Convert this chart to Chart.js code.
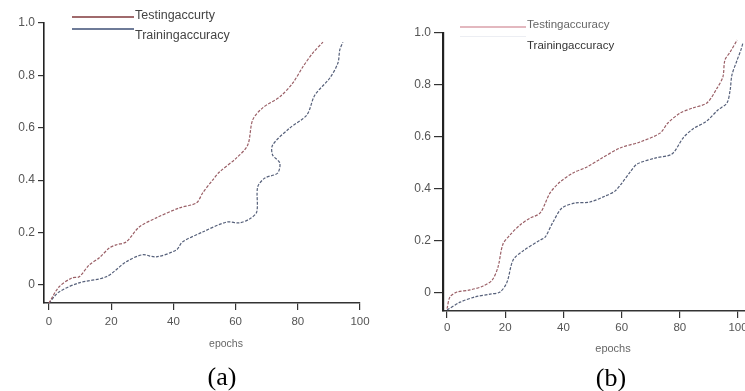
<!DOCTYPE html>
<html>
<head>
<meta charset="utf-8">
<script src="https://cdn.jsdelivr.net/npm/chart.js@4.4.1/dist/chart.umd.min.js"></script>
<style>
  html, body { margin:0; padding:0; background:#fff; width:745px; height:391px; overflow:hidden; position:relative; }
  canvas { position:absolute; top:0; }
  #cA { left:0; }
  #cB { left:370px; }
  .t { position:absolute; white-space:nowrap; font-family:"Liberation Sans", Arial, sans-serif; color:#444; }
  .ln { position:absolute; height:2px; }
  .cap { position:absolute; font-family:"Liberation Serif", "Times New Roman", serif; font-size:26px; color:#000; transform:translate(-50%,-50%); }
  .ax { position:absolute; font-family:"Liberation Sans", Arial, sans-serif; font-size:10.5px; color:#666; transform:translate(-50%,-50%); }
</style>
</head>
<body>
<canvas id="cA" width="380" height="391"></canvas>
<canvas id="cB" width="390" height="391"></canvas>

<div class="ln" style="left:72px;top:16px;width:62px;background:#a06a6c;"></div>
<div class="ln" style="left:72px;top:28px;width:62px;background:#6e7b98;"></div>
<div class="t" style="left:135px;top:8px;font-size:12.5px;">Testingaccurty</div>
<div class="t" style="left:135px;top:28px;font-size:12.5px;">Trainingaccuracy</div>

<div class="ln" style="left:460px;top:26px;width:66px;background:#e3b8bf;"></div>
<div class="ln" style="left:460px;top:36px;width:66px;height:1px;background:#eceef3;"></div>
<div class="t" style="left:527px;top:18px;font-size:11.5px;color:#666;">Testingaccuracy</div>
<div class="t" style="left:527px;top:39px;font-size:11.5px;color:#333;">Trainingaccuracy</div>

<div class="ax" style="left:226px;top:343px;">epochs</div>
<div class="ax" style="left:613px;top:348px;font-size:11px;">epochs</div>

<div class="cap" style="left:222px;top:377px;">(a)</div>
<div class="cap" style="left:611px;top:378px;">(b)</div>

<script>
// ---------- data ----------
// Chart (a)
const testA_epochs = [0, 3.2, 7.4, 9.7, 12.9, 16.1, 19.4, 21.6, 24.8, 29, 34.5, 41.9, 47.4, 49.4, 52.6, 54.8, 60.3, 63.9, 65.5, 68.7, 74.2, 78.4, 81.6, 84.8, 88.1];
const testA_acc    = [-0.069, -0.008, 0.027, 0.031, 0.076, 0.103, 0.141, 0.153, 0.164, 0.221, 0.256, 0.294, 0.313, 0.351, 0.40, 0.431, 0.485, 0.534, 0.63, 0.676, 0.718, 0.771, 0.832, 0.885, 0.927];
const trainA_epochs = [0, 3.2, 9.7, 18.4, 24.8, 30, 34.5, 41, 42.9, 49.4, 57.1, 61.3, 64.5, 66.8, 67.1, 69.4, 73.5, 74.2, 71.9, 71.9, 77.4, 82.9, 85.5, 90.3, 92.9, 93.5, 94.5];
const trainA_acc    = [-0.069, -0.027, 0.008, 0.031, 0.088, 0.115, 0.107, 0.134, 0.164, 0.202, 0.240, 0.237, 0.252, 0.279, 0.374, 0.408, 0.427, 0.466, 0.496, 0.534, 0.599, 0.649, 0.725, 0.790, 0.847, 0.897, 0.927];
// Chart (b)
const testB_epochs = [0, 1.0, 3.4, 7.9, 12.4, 15.5, 17.5, 19.2, 21.6, 25.1, 28.5, 32, 35.4, 38.8, 43.3, 48.1, 52.6, 59.5, 66.3, 73.2, 75.9, 80.1, 84.5, 89.3, 92.8, 94.8, 95.5, 97.3, 99.7];
const testB_acc    = [-0.06, -0.015, 0.004, 0.012, 0.027, 0.05, 0.10, 0.188, 0.223, 0.262, 0.288, 0.308, 0.385, 0.427, 0.462, 0.485, 0.515, 0.558, 0.581, 0.615, 0.654, 0.692, 0.712, 0.731, 0.788, 0.831, 0.896, 0.927, 0.973];
const trainB_epochs = [0, 4.5, 9.6, 14.8, 18.2, 20.6, 22.7, 26.1, 32, 33.7, 36.4, 39.5, 44, 49.1, 54.3, 57.7, 60.1, 62.9, 65.3, 71.5, 77.3, 81.1, 84.5, 89.3, 93.1, 96.2, 97.3, 97.9, 99.7, 101, 101.7];
const trainB_acc    = [-0.065, -0.035, -0.015, -0.004, 0.004, 0.042, 0.127, 0.162, 0.204, 0.215, 0.273, 0.327, 0.346, 0.35, 0.373, 0.392, 0.423, 0.465, 0.496, 0.519, 0.535, 0.596, 0.631, 0.662, 0.704, 0.731, 0.781, 0.838, 0.896, 0.935, 0.962];
// Tick labels
const xTickValues = [0, 20, 40, 60, 80, 100];
const yTickValues = [0, 0.2, 0.4, 0.6, 0.8, 1.0];
const seriesNames = ["Testingaccurty", "Trainingaccuracy"];

const pts = (xs, ys) => xs.map((x, i) => ({x: x, y: ys[i]}));
const yFmt = v => (Math.abs(v) < 1e-9 ? "0" : v.toFixed(1));

function makeChart(id, o) {
  return new Chart(document.getElementById(id), {
    type: 'line',
    data: {
      datasets: [
        { label: seriesNames[0], data: pts(o.tx, o.ty), borderColor: '#9a5f66', borderWidth: 1.2, borderDash: [3, 1.5], pointRadius: 0, tension: 0.3, fill: false },
        { label: seriesNames[1], data: pts(o.rx, o.ry), borderColor: '#56607a', borderWidth: 1.2, borderDash: [3, 1.5], pointRadius: 0, tension: 0.3, fill: false }
      ]
    },
    options: {
      responsive: false,
      animation: false,
      devicePixelRatio: 1,
      layout: { padding: o.pad },
      plugins: { legend: { display: false }, tooltip: { enabled: false } },
      scales: {
        x: {
          type: 'linear', min: o.xmin, max: o.xmax,
          afterBuildTicks: s => { s.ticks = xTickValues.map(v => ({value: v})); },
          afterFit: s => { s.height = 40; },
          ticks: { color: '#555', font: { family: 'Liberation Sans', size: 11.5 }, padding: o.xpad, maxRotation: 0, autoSkip: false },
          grid: { display: true, drawOnChartArea: false, drawTicks: true, tickLength: 7, color: '#333', lineWidth: 1.2 },
          border: { display: true, color: '#333', width: 1.6 }
        },
        y: {
          type: 'linear', min: -0.069, max: 1.0,
          afterBuildTicks: s => { s.ticks = yTickValues.map(v => ({value: v})); },
          afterFit: s => { s.width = o.yw; },
          ticks: { color: '#555', font: { family: 'Liberation Sans', size: 12 }, padding: 3, callback: v => yFmt(v) },
          grid: { display: true, drawOnChartArea: false, drawTicks: true, tickLength: o.ytl, color: '#333', lineWidth: 1.2 },
          border: { display: true, color: '#222', width: o.bw }
        }
      }
    }
  });
}

makeChart('cA', { tx: testA_epochs, ty: testA_acc, rx: trainA_epochs, ry: trainA_acc,
  xmin: -1.6, xmax: 100, pad: { left: 0, top: 23, right: 20, bottom: 48 }, yw: 44, ytl: 6, xpad: 5, bw: 1.6 });
makeChart('cB', { tx: testB_epochs, ty: testB_acc, rx: trainB_epochs, ry: trainB_acc,
  xmin: -1.4, xmax: 102.4, pad: { left: 0, top: 33, right: 15, bottom: 40 }, yw: 73, ytl: 9, xpad: 3, bw: 2.2 });
</script>
</body>
</html>
